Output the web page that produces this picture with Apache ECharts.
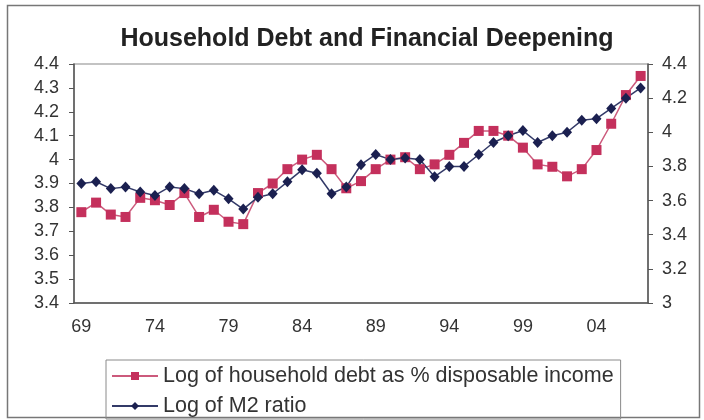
<!DOCTYPE html>
<html>
<head>
<meta charset="utf-8">
<script src="https://cdn.jsdelivr.net/npm/echarts@6/dist/echarts.min.js"></script>
<style>
  html, body { margin: 0; padding: 0; background: #ffffff; }
  #chart { width: 704px; height: 420px; }
</style>
</head>
<body>
<div id="chart"></div>
<script>
// Years 1969-2007, shown as two-digit labels
const years = ['69','70','71','72','73','74','75','76','77','78',
               '79','80','81','82','83','84','85','86','87','88',
               '89','90','91','92','93','94','95','96','97','98',
               '99','00','01','02','03','04','05','06','07'];

// Log of household debt as % of disposable income (left axis)
const householdDebtLog = [3.78, 3.82, 3.77, 3.76, 3.84, 3.83, 3.81, 3.86, 3.76, 3.79,
                          3.74, 3.73, 3.86, 3.90, 3.96, 4.00, 4.02, 3.96, 3.88, 3.91,
                          3.96, 4.00, 4.01, 3.96, 3.98, 4.02, 4.07, 4.12, 4.12, 4.10,
                          4.05, 3.98, 3.97, 3.93, 3.96, 4.04, 4.15, 4.27, 4.35];

// Log of M2 ratio (right axis)
const m2RatioLog = [3.70, 3.71, 3.67, 3.68, 3.65, 3.63, 3.68, 3.67, 3.64, 3.66,
                    3.61, 3.55, 3.62, 3.64, 3.71, 3.78, 3.76, 3.64, 3.68, 3.81,
                    3.87, 3.84, 3.85, 3.84, 3.74, 3.80, 3.80, 3.87, 3.94, 3.98,
                    4.01, 3.94, 3.98, 4.00, 4.07, 4.08, 4.14, 4.20, 4.26];

const seriesNames = ['Log of household debt as % disposable income', 'Log of M2 ratio'];

const FONT = "'Liberation Sans', Arial, Helvetica, sans-serif";
const TEXT = '#333333';
const AXIS = '#555555';

const chart = echarts.init(document.getElementById('chart'), null, { renderer: 'canvas' });

chart.setOption({
  animation: false,
  backgroundColor: '#ffffff',
  title: {
    text: 'Household Debt and Financial Deepening',
    left: 362,
    top: 22,
    textAlign: 'center',
    textStyle: { fontFamily: FONT, fontSize: 25, fontWeight: 'bold', color: '#222222' }
  },
  graphic: [{
    type: 'rect',
    silent: true,
    z: -1,
    shape: { x: 7.5, y: 5.5, width: 692, height: 412 },
    style: { fill: 'none', stroke: '#777777', lineWidth: 1.5 }
  }],
  grid: {
    left: 74, right: 56, top: 64, bottom: 117,
    show: true,
    borderColor: '#b0b0b0',
    borderWidth: 1.5
  },
  legend: {
    orient: 'vertical',
    left: 106,
    top: 360,
    padding: [5, 7, 2, 5],
    itemGap: 8,
    itemWidth: 46,
    itemHeight: 10,
    borderColor: '#8a8a8a',
    borderWidth: 1,
    textStyle: { fontFamily: FONT, fontSize: 21.5, color: TEXT },
    data: seriesNames
  },
  xAxis: {
    type: 'category',
    data: years,
    boundaryGap: true,
    axisLine: { lineStyle: { color: AXIS, width: 1.5 } },
    axisTick: { interval: 4, length: 4, lineStyle: { color: AXIS } },
    axisLabel: { interval: 4, margin: 15, fontFamily: FONT, fontSize: 18, color: TEXT }
  },
  yAxis: [{
    type: 'value',
    position: 'left',
    min: 3.4, max: 4.4, interval: 0.1,
    splitLine: { show: false },
    axisLine: { show: true, lineStyle: { color: AXIS, width: 1.5 } },
    axisTick: { show: true, length: 5, lineStyle: { color: AXIS } },
    axisLabel: { margin: 15, fontFamily: FONT, fontSize: 18, color: TEXT }
  }, {
    type: 'value',
    position: 'right',
    min: 3, max: 4.4, interval: 0.2,
    splitLine: { show: false },
    axisLine: { show: true, lineStyle: { color: AXIS, width: 1.5 } },
    axisTick: { show: true, length: 5, lineStyle: { color: AXIS } },
    axisLabel: { margin: 14, fontFamily: FONT, fontSize: 18, color: TEXT }
  }],
  series: [{
    name: seriesNames[0],
    type: 'line',
    yAxisIndex: 0,
    data: householdDebtLog,
    symbol: 'rect',
    symbolSize: 10,
    showSymbol: true,
    showAllSymbol: true,
    itemStyle: { color: '#c4305c' },
    lineStyle: { color: '#cc5a7c', width: 1.5 }
  }, {
    name: seriesNames[1],
    type: 'line',
    yAxisIndex: 1,
    data: m2RatioLog,
    symbol: 'diamond',
    symbolSize: [10, 11],
    showSymbol: true,
    showAllSymbol: true,
    itemStyle: { color: '#1b2050' },
    lineStyle: { color: '#333a68', width: 1.5 }
  }]
});
</script>
</body>
</html>
